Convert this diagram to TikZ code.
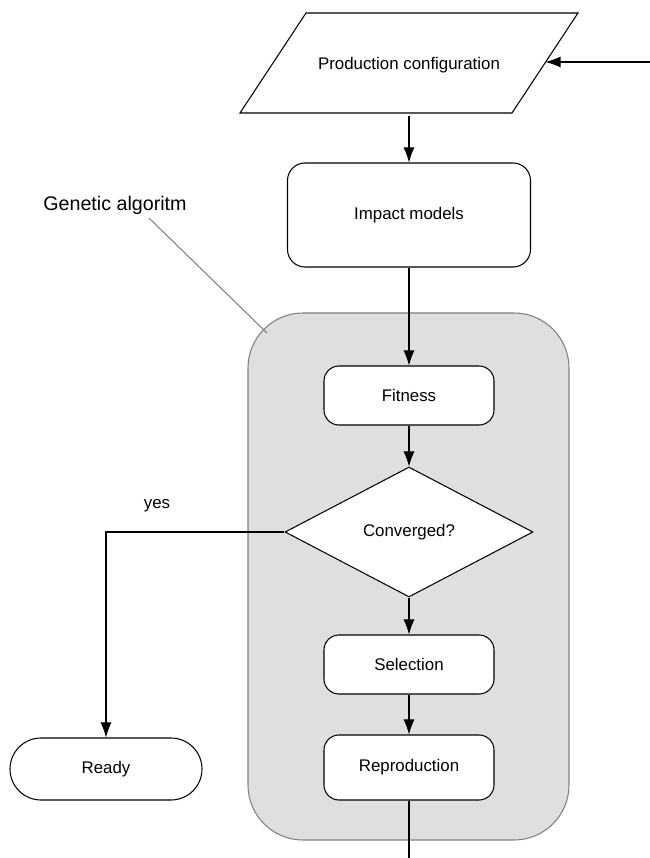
\documentclass[tikz,border=0pt]{standalone}
\usepackage{fontspec}
\setmainfont{Liberation Sans}
\usetikzlibrary{shapes.geometric,arrows.meta}
\begin{document}
\begin{tikzpicture}[
    line width=0.6pt,
    font=\fontsize{9.6}{11}\selectfont,
    box/.style={draw, rounded corners=0.3cm, fill=white, minimum width=3.4cm, minimum height=1.18cm},
    decision/.style={draw, diamond, fill=white, minimum width=4.96cm, minimum height=2.6cm, inner sep=0pt},
    flow/.style={-{Latex[length=3mm,width=2.2mm]}}
  ]
    \useasboundingbox (0,0) rectangle (13,17.16);

    % Background of the genetic algorithm
    \node[draw=gray, fill=gray!25, rounded corners=1.1cm, minimum width=6.42cm, minimum height=10.54cm] (ga) at (8.17,5.63) {};

    % Production configuration (input)
    \draw (4.8,14.9) -- (6.12,16.9) -- (11.56,16.9) -- (10.24,14.9) -- cycle;
    \node[minimum height=2cm] (config) at (8.18,15.86) {Production configuration};
    \coordinate (in) at (10.91,15.92);
    \coordinate (start) at (13,15.92);

    % The steps
    \node[box, rounded corners=0.35cm, minimum width=4.86cm, minimum height=2.08cm] (impact) at (8.18,12.86) {Impact models};
    \node[box] (fitness) at (8.18,9.25) {Fitness};
    \node[decision] (conv) at (8.18,6.52) {Converged?};
    \node[box] (selection) at (8.18,3.87) {Selection};
    \node[box, minimum height=1.3cm] (repro) at (8.18,1.81) {Reproduction};
    \node[draw, rounded corners=0.62cm, minimum width=3.84cm, minimum height=1.24cm] (ready) at (2.12,1.78) {Ready};
    \coordinate (out) at (8.18,0);

    % Labels
    \node[font=\fontsize{11.2}{13}\selectfont] (galabel) at (2.3,13.06) {Genetic algoritm};
    \node (yes) at (3.14,7.04) {yes};
    \coordinate (gapoint) at (5.34,10.5);

    % Connectors
    \draw[flow] (start) -- (in);
    \draw[flow] (config) -- (impact);
    \draw[flow] (impact) -- (fitness);
    \draw[flow] (fitness) -- (conv);
    \draw[flow] (conv) -- (selection);
    \draw[flow] (selection) -- (repro);
    \draw (repro) -- (out);
    \draw[flow] (conv.west) -| (ready.north);
    \draw[gray] ([xshift=0.68cm,yshift=0.05cm]galabel.south) -- (gapoint);
  \end{tikzpicture}
\end{document}
